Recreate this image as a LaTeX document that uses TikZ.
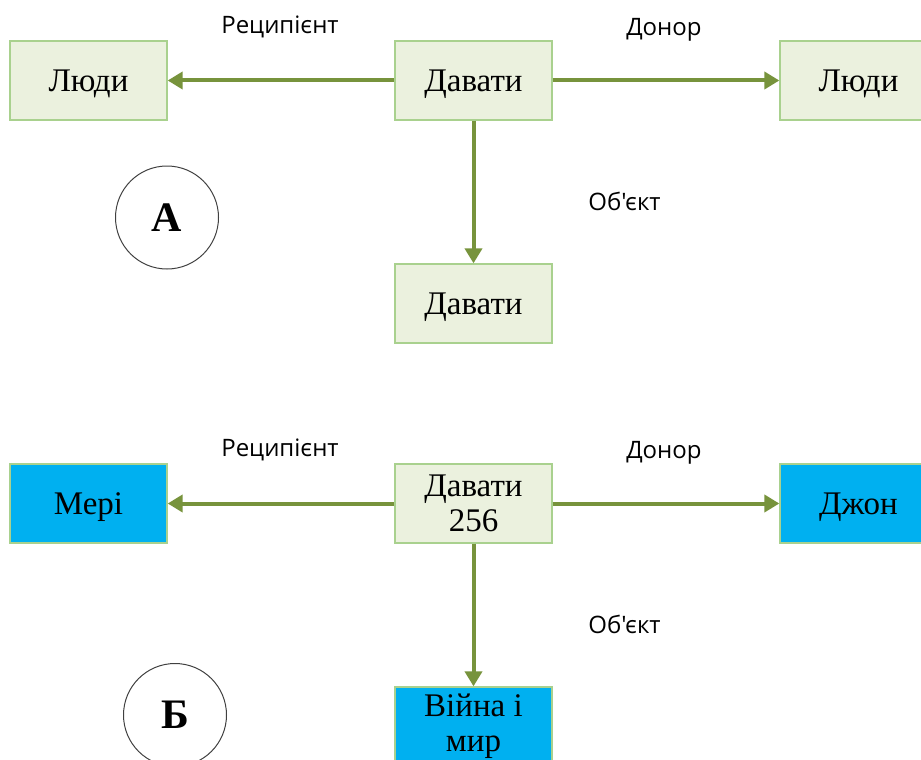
\documentclass[tikz,border=0pt]{standalone}
\usepackage{fontspec}
\setmainfont{Liberation Serif}
\newfontfamily\labelfont{Open Sans}
\usetikzlibrary{arrows.meta}
\definecolor{boxfill}{HTML}{EBF1DE}
\definecolor{boxline}{HTML}{A9D18E}
\definecolor{bluefill}{HTML}{00B0F0}
\definecolor{arrowgreen}{HTML}{77933C}
\tikzset{
  conceptbox/.style={draw=boxline, fill=boxfill, line width=1.3pt,
    minimum width=157pt, minimum height=79pt, inner sep=0pt, align=center,
    font=\fontsize{33}{35}\selectfont},
  oneline/.style={text depth=0pt},
  namedbox/.style={conceptbox, fill=bluefill},
  relation/.style={font=\labelfont\fontsize{24}{27}\selectfont, inner sep=0pt,
    text depth=0pt},
  marker/.style={circle, draw=black!75, line width=1pt, minimum size=103pt,
    inner sep=0pt, font=\bfseries\fontsize{42}{42}\selectfont},
  link/.style={draw=arrowgreen, line width=4pt,
    -{Triangle[width=17pt, length=15pt]}}
}
\begin{document}
\begin{tikzpicture}[x=1pt, y=-1pt]
  \useasboundingbox (0,0) rectangle (921,760);
  \clip (0,0) rectangle (921,760);

  % general frame: giving, with recipient, donor and object slots
  \node[conceptbox, oneline] (recA)  at (88.5, 80.5)  {Люди};
  \node[conceptbox, oneline] (giveA) at (473.5, 80.5) {Давати};
  \node[conceptbox, oneline] (donA)  at (858.5, 80.5) {Люди};
  \node[conceptbox, oneline] (objA)  at (473.5, 303.5) {Давати};
  \node[marker] (markA) at (167, 217.5) {А};

  \node[relation] (lrecA) at (280, 25)    {Реципієнт};
  \node[relation] (ldonA) at (664, 27)    {Донор};
  \node[relation] (lobjA) at (624.5, 201.5) {Об'єкт};

  \draw[link] (giveA) -- (recA);
  \draw[link] (giveA) -- (donA);
  \draw[link] (giveA) -- (objA);

  % concrete instance of the frame
  \node[namedbox, oneline] (recB)  at (88.5, 503.5)  {Мері};
  \node[conceptbox]        (giveB) at (473.5, 503.5) {Давати\\256};
  \node[namedbox, oneline] (donB)  at (858.5, 503.5) {Джон};
  \node[namedbox]          (objB)  at (473.5, 726.5) {Війна і\\мир};
  \node[marker] (markB) at (175, 715) {Б};

  \node[relation] (lrecB) at (280, 448)     {Реципієнт};
  \node[relation] (ldonB) at (664, 450)     {Донор};
  \node[relation] (lobjB) at (624.5, 624.5) {Об'єкт};

  \draw[link] (giveB) -- (recB);
  \draw[link] (giveB) -- (donB);
  \draw[link] (giveB) -- (objB);
\end{tikzpicture}
\end{document}
